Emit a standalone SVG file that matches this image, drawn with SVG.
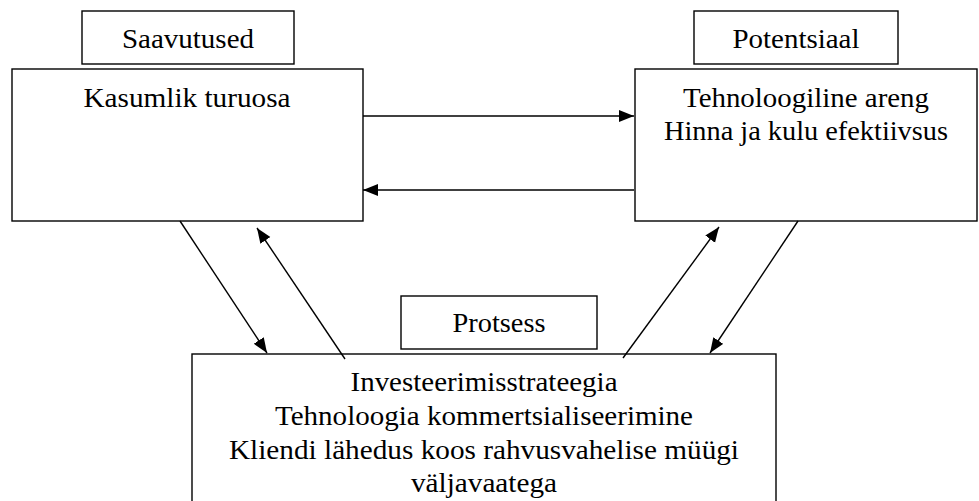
<svg xmlns="http://www.w3.org/2000/svg" width="979" height="501" viewBox="0 0 979 501">
<defs>
<style>
.box{fill:#fff;stroke:#000;stroke-width:1.4}
.c{stroke:#000;stroke-width:1.4;fill:none;marker-end:url(#ah)}
</style>
<marker id="ah" markerUnits="userSpaceOnUse" markerWidth="16" markerHeight="13" refX="15" refY="6" orient="auto">
<path d="M0,0 L15,6 L0,12 z" fill="#000"/>
</marker>
</defs>
<rect width="979" height="501" fill="#fff"/>
<g font-family="'Liberation Serif', 'Times New Roman', serif" font-size="27.5" text-anchor="middle" fill="#000">
<g id="saavutused">
<rect class="box" x="82" y="11" width="212" height="53"/>
<text x="188" y="48" textLength="132" lengthAdjust="spacingAndGlyphs">Saavutused</text>
</g>
<g id="kasumlik">
<rect class="box" x="12" y="69" width="351" height="152"/>
<text x="187" y="107" textLength="207" lengthAdjust="spacingAndGlyphs">Kasumlik turuosa</text>
</g>
<g id="potentsiaal">
<rect class="box" x="694" y="11" width="204" height="53"/>
<text x="796" y="48" textLength="127" lengthAdjust="spacingAndGlyphs">Potentsiaal</text>
</g>
<g id="tehnoloogiline">
<rect class="box" x="635" y="69" width="342" height="152"/>
<text x="806" y="107" textLength="246" lengthAdjust="spacingAndGlyphs">Tehnoloogiline areng</text>
<text x="806" y="140" textLength="284" lengthAdjust="spacingAndGlyphs">Hinna ja kulu efektiivsus</text>
</g>
<g id="protsess">
<rect class="box" x="401" y="296" width="196" height="53"/>
<text x="499" y="332" textLength="93" lengthAdjust="spacingAndGlyphs">Protsess</text>
</g>
<g id="investeerimine">
<rect class="box" x="192" y="354" width="584" height="160"/>
<text x="484" y="391" textLength="267" lengthAdjust="spacingAndGlyphs">Investeerimisstrateegia</text>
<text x="484" y="425" textLength="418" lengthAdjust="spacingAndGlyphs">Tehnoloogia kommertsialiseerimine</text>
<text x="484" y="458.5" textLength="510" lengthAdjust="spacingAndGlyphs">Kliendi lähedus koos rahvusvahelise müügi</text>
<text x="484" y="492" textLength="146" lengthAdjust="spacingAndGlyphs">väljavaatega</text>
</g>
</g>
<g id="connectors">
<path class="c" d="M363,116 L634,116"/>
<path class="c" d="M634,190 L363,190"/>
<path class="c" d="M180,221 L267,353"/>
<path class="c" d="M345,359 L257,228"/>
<path class="c" d="M623,358 L719,227"/>
<path class="c" d="M798,221 L710,353"/>
</g>
</svg>
